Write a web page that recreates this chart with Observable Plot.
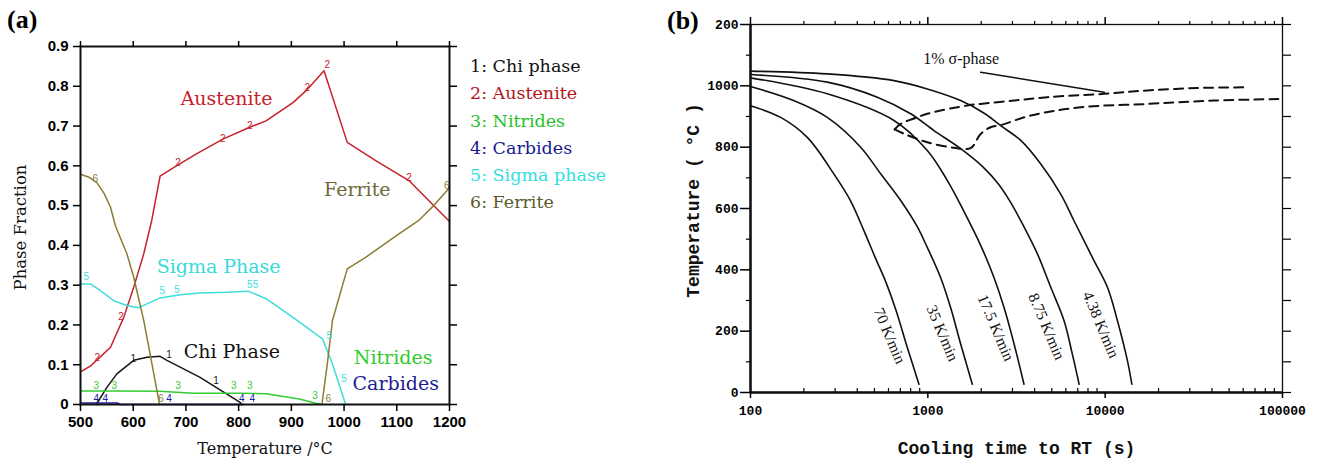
<!DOCTYPE html>
<html><head><meta charset="utf-8">
<script src="https://cdn.jsdelivr.net/npm/d3@7"></script>
<script src="https://cdn.jsdelivr.net/npm/@observablehq/plot@0.6"></script>
<style>
body{margin:0;background:#fff}
#wrap{position:relative;width:1318px;height:458px;overflow:hidden;background:#fff}
.pl{position:absolute;font-family:"Liberation Serif",serif;font-weight:bold;font-size:26px;line-height:26px}
#legend{position:absolute;left:470px;top:53px;font-family:"DejaVu Serif",serif;font-size:17.5px;line-height:27.3px;white-space:nowrap}
svg{position:absolute;top:0}
</style></head><body>
<div id="wrap">
<div class="pl" style="left:7px;top:7px">(a)</div>
<div class="pl" style="left:667px;top:8px">(b)</div>
<div id="legend"></div>
</div>
<script>
// ---------- Panel (a): phase fractions vs temperature ----------
const AUS_T = [500, 520, 537, 557, 582, 601, 620, 635, 651, 682, 720, 770, 821, 852, 903, 928, 962, 1006, 1060, 1123, 1200];
const AUS_F = [0.082, 0.098, 0.119, 0.144, 0.219, 0.295, 0.379, 0.462, 0.574, 0.600, 0.630, 0.667, 0.697, 0.713, 0.759, 0.789, 0.839, 0.659, 0.613, 0.563, 0.46];
const FER1_T = [500, 515, 531, 545, 557, 566, 588, 601, 620, 632, 640, 650];
const FER1_F = [0.579, 0.572, 0.558, 0.530, 0.496, 0.45, 0.379, 0.32, 0.211, 0.127, 0.07, 0];
const FER2_T = [958, 968, 978, 1006, 1041, 1104, 1141, 1170, 1200];
const FER2_F = [0, 0.1, 0.211, 0.341, 0.37, 0.429, 0.462, 0.5, 0.545];
const SIG_T = [500, 519, 538, 563, 588, 610, 626, 651, 689, 726, 777, 818, 852, 903, 959, 978, 1003];
const SIG_F = [0.303, 0.303, 0.286, 0.261, 0.249, 0.243, 0.253, 0.268, 0.276, 0.280, 0.282, 0.285, 0.266, 0.219, 0.165, 0.102, 0];
const CHI_T = [530, 550, 569, 601, 626, 651, 664, 726, 802, 806];
const CHI_F = [0, 0.043, 0.077, 0.111, 0.119, 0.121, 0.111, 0.069, 0.006, 0];
const NIT_T = [500, 560, 650, 714, 800, 852, 915, 956];
const NIT_F = [0.034, 0.034, 0.033, 0.028, 0.028, 0.027, 0.014, 0];
const CAR_T = [500, 570, 575, 810];
const CAR_F = [0.004, 0.004, 0, 0];

// curve number markers [T, F]
const MK_CHI = [[600,0.115],[668,0.126],[757,0.06]];
const MK_AUS = [[532,0.118],[577,0.221],[685,0.608],[770,0.668],[821,0.70],[930,0.797],[968,0.855],[1123,0.57]];
const MK_NIT = [[530,0.048],[564,0.048],[685,0.048],[791,0.048],[821,0.048],[945,0.023]];
const MK_CAR = [[530,0.015],[547,0.015],[668,0.015],[806,0.015],[826,0.015]];
const MK_SIG = [[511,0.32],[655,0.286],[683,0.289],[821,0.30],[832,0.30],[972,0.173],[1000,0.065]];
const MK_FER = [[528,0.568],[653,0.015],[970,0.015],[1195,0.55]];

const LABEL_TEXT = ["Austenite", "Sigma Phase", "Chi Phase", "Ferrite", "Nitrides", "Carbides"];
const LABEL_T = [777, 762, 787, 1025, 1093, 1098];
const LABEL_F = [0.769, 0.347, 0.131, 0.54, 0.118, 0.053];

const LEGEND_TEXT = ["1: Chi phase", "2: Austenite", "3: Nitrides", "4: Carbides", "5: Sigma phase", "6: Ferrite"];

const X_TICKS_A = [500, 600, 700, 800, 900, 1000, 1100, 1200];
const Y_TICKS_A = [0, 0.1, 0.2, 0.3, 0.4, 0.5, 0.6, 0.7, 0.8, 0.9];

// ---------- Panel (b): cooling curves ----------
const RATE_LABELS = ["70 K/min", "35 K/min", "17.5 K/min", "8.75 K/min", "4.38 K/min"];
const C70_t = [100, 148, 209, 295, 366, 436, 505, 580, 660, 766, 891];
const C70_T = [935, 897, 832, 713, 626, 528, 440, 360, 270, 147, 27];
const C35_t = [100, 175, 271, 418, 542, 703, 873, 993, 1180, 1344, 1532, 1782];
const C35_T = [998, 952, 897, 800, 713, 626, 540, 473, 375, 277, 158, 27];
const C17_t = [100, 271, 644, 993, 1289, 1600, 1986, 2360, 2690, 3065, 3485];
const C17_T = [1026, 974, 887, 789, 691, 590, 480, 375, 277, 158, 27];
const C8_t = [100, 271, 519, 800, 1083, 1532, 2050, 2500, 2930, 3450, 4150, 4935, 5865, 6530, 7130];
const C8_T = [1037, 1012, 963, 909, 854, 795, 735, 680, 620, 545, 452, 343, 234, 125, 27];
const C4_t = [100, 271, 644, 993, 1532, 2100, 2576, 3342, 4335, 5615, 6670, 8650, 10300, 11730, 13360, 14140];
const C4_T = [1048, 1039, 1017, 990, 952, 909, 870, 822, 745, 647, 560, 430, 343, 234, 103, 27];

const SIG_UP_t = [650, 703, 850, 993, 1670, 1986, 3060, 4720, 9890, 17350, 33200, 60800];
const SIG_UP_T = [858, 876, 895, 909, 936, 941, 952, 963, 974, 985, 993, 995];
const SIG_LO_t = [650, 760, 993, 1402, 1742, 1986, 2260, 2576, 3800, 7280, 17350, 41200, 98000];
const SIG_LO_T = [858, 840, 816, 798, 797, 843, 865, 872, 903, 930, 941, 952, 957];
const LEADER_t = [1986, 9890];
const LEADER_T = [1044, 979];
const ANNOT_TEXT = ["1% σ-phase"];
const ANNOT_t = [1541];
const ANNOT_T = [1087];

const RATE_t = [608, 1208, 2414, 4668, 9440];
const RATE_T = [185, 193, 211, 215, 221];

const Y_TICKS_B = [0, 200, 400, 600, 800, 1000, 1200];
const Y_MINOR_B = [100, 300, 500, 700, 900, 1100];
const Y_ALL_B = [0, 100, 200, 300, 400, 500, 600, 700, 800, 900, 1000, 1100, 1200];
const X_TICKS_B = [100, 1000, 10000, 100000];
const X_MINOR_B = [200,300,400,500,600,700,800,900,2000,3000,4000,5000,6000,7000,8000,9000,20000,30000,40000,50000,60000,70000,80000,90000];

// ---------- colours ----------
const C_CHI = "#161616", C_AUS = "#c8202c", C_NIT = "#33cc33", C_CAR = "#1c1ca6", C_SIG = "#3fdcdc", C_FER = "#8a7d34";
const LEG_COLORS = ["#111111", "#b0141c", "#27c227", "#1a1a90", "#35dede", "#5c5a2c"];
const LABEL_COLORS = [C_AUS, "#38dada", "#111111", "#6e6938", "#2ecc2e", "#1c1c96"];

const pts = (xs, ys) => xs.map((x, i) => ({x, y: ys[i]}));
const mk = (arr) => arr.map(([x, y]) => ({x, y}));

// legend
document.getElementById("legend").innerHTML = LEGEND_TEXT.map((t, i) => `<div style="color:${LEG_COLORS[i]}">${t}</div>`).join("");

const serifA = "DejaVu Serif, serif";
const series = [[CHI_T, CHI_F, C_CHI], [AUS_T, AUS_F, C_AUS], [NIT_T, NIT_F, C_NIT], [CAR_T, CAR_F, C_CAR], [SIG_T, SIG_F, C_SIG], [FER1_T, FER1_F, C_FER], [FER2_T, FER2_F, C_FER]];
const markers = [[MK_CHI, "1", C_CHI], [MK_AUS, "2", C_AUS], [MK_NIT, "3", C_NIT], [MK_CAR, "4", C_CAR], [MK_SIG, "5", C_SIG], [MK_FER, "6", C_FER]];

const plotA = Plot.plot({
  width: 460, height: 458,
  marginLeft: 80, marginRight: 11, marginTop: 46, marginBottom: 54,
  x: {domain: [500, 1200]},
  y: {domain: [0, 0.9]},
  style: {fontFamily: "Liberation Sans, Arial, sans-serif", fontSize: "15px", background: "transparent", overflow: "visible"},
  marks: [
    ...series.map(([T, F, c]) => Plot.line(pts(T, F), {x: "x", y: "y", stroke: c, strokeWidth: 1.5})),
    ...markers.map(([arr, s, c]) => Plot.text(mk(arr), {x: "x", y: "y", text: () => s, fill: c, fontSize: 10, fontFamily: "Liberation Sans, sans-serif"})),
    ...LABEL_TEXT.map((t, i) => Plot.text([{x: LABEL_T[i], y: LABEL_F[i], t}], {x: "x", y: "y", text: "t", fill: LABEL_COLORS[i], fontFamily: serifA, fontSize: 19})),
    Plot.frame({stroke: "#111", strokeWidth: 2}),
    Plot.axisY({ticks: Y_TICKS_A, tickSize: 7, tickPadding: 5, strokeWidth: 1.5, fontWeight: "bold", label: null, tickFormat: d => d === 0 ? "0" : d.toFixed(1)}),
    Plot.axisY({anchor: "right", ticks: Y_TICKS_A, tickSize: 7, strokeWidth: 1.5, label: null, tickFormat: () => ""}),
    Plot.axisX({ticks: X_TICKS_A, tickSize: 7, tickPadding: 5, strokeWidth: 1.5, fontWeight: "bold", label: null, tickFormat: d => String(d)}),
    Plot.axisX({anchor: "top", ticks: X_TICKS_A, tickSize: 6, strokeWidth: 1.5, label: null, tickFormat: () => ""}),
    Plot.text(["Temperature /°C"], {frameAnchor: "bottom", dy: 49, fontFamily: serifA, fontSize: 16, fill: "#111"}),
    Plot.text(["Phase Fraction"], {frameAnchor: "left", textAnchor: "middle", dx: -60, dy: 2, rotate: -90, fontFamily: serifA, fontSize: 16.5, fill: "#111"})
  ]
});
plotA.style.left = "0px";
document.getElementById("wrap").appendChild(plotA);

// panel b
const curves = [[C70_t, C70_T], [C35_t, C35_T], [C17_t, C17_T], [C8_t, C8_T], [C4_t, C4_T]];
const mono = "Liberation Mono, monospace";
const serifB = "Liberation Serif, Times New Roman, serif";
const plotB = Plot.plot({
  width: 658, height: 458,
  marginLeft: 90, marginRight: 36, marginTop: 24, marginBottom: 66,
  x: {type: "log", domain: [100, 100000]},
  y: {domain: [0, 1200]},
  style: {fontFamily: mono, fontSize: "13px", background: "transparent", overflow: "visible"},
  marks: [
    ...curves.map(([t, T]) => Plot.line(pts(t, T), {x: "x", y: "y", stroke: "#111", strokeWidth: 1.6, curve: "catmull-rom"})),
    Plot.line(pts(SIG_UP_t, SIG_UP_T), {x: "x", y: "y", stroke: "#111", strokeWidth: 2, strokeDasharray: "9,6", curve: "catmull-rom"}),
    Plot.line(pts(SIG_LO_t, SIG_LO_T), {x: "x", y: "y", stroke: "#111", strokeWidth: 2, strokeDasharray: "9,6", curve: "catmull-rom"}),
    Plot.line(pts(LEADER_t, LEADER_T), {x: "x", y: "y", stroke: "#111", strokeWidth: 1.5}),
    Plot.text(ANNOT_TEXT.map((s, i) => ({x: ANNOT_t[i], y: ANNOT_T[i], s})), {x: "x", y: "y", text: "s", fontFamily: serifB, fontSize: 16, fill: "#111"}),
    Plot.text(RATE_LABELS.map((s, i) => ({x: RATE_t[i], y: RATE_T[i], s})), {x: "x", y: "y", text: "s", rotate: 67, fontFamily: serifB, fontSize: 15.5, fill: "#111"}),
    Plot.frame({stroke: "#111", strokeWidth: 1.3}),
    Plot.ruleX([100], {stroke: "#111", strokeWidth: 2.5}),
    Plot.ruleY([0], {stroke: "#111", strokeWidth: 2.5}),
    Plot.axisY({ticks: Y_TICKS_B, tickSize: 10, tickPadding: 2, strokeWidth: 1.5, fontWeight: "bold", label: null, tickFormat: d => d === 1200 ? "200" : String(d)}),
    Plot.axisY({ticks: Y_MINOR_B, tickSize: 4, strokeWidth: 1.2, label: null, tickFormat: () => ""}),
    Plot.axisY({anchor: "right", ticks: Y_ALL_B, tickSize: 8, strokeWidth: 1.2, label: null, tickFormat: () => ""}),
    Plot.axisX({ticks: X_TICKS_B, tickSize: 6, tickPadding: 7, strokeWidth: 1.5, fontWeight: "bold", label: null, tickFormat: d => String(d)}),
    Plot.axisX({ticks: X_MINOR_B, tickSize: -4, strokeWidth: 1.2, label: null, tickFormat: () => ""}),
    Plot.axisX({anchor: "top", ticks: X_TICKS_B, tickSize: 8, strokeWidth: 1.5, label: null, tickFormat: () => ""}),
    Plot.axisX({anchor: "top", ticks: X_MINOR_B, tickSize: 4, strokeWidth: 1.2, label: null, tickFormat: () => ""}),
    Plot.text(["Cooling time to RT (s)"], {frameAnchor: "bottom", dy: 61, fontFamily: mono, fontWeight: "bold", fontSize: 18, fill: "#111"}),
    Plot.text(["Temperature ( °C )"], {frameAnchor: "left", textAnchor: "middle", dx: -57, dy: -8, rotate: -90, fontFamily: mono, fontWeight: "bold", fontSize: 18, fill: "#111"})
  ]
});
plotB.style.left = "660px";
document.getElementById("wrap").appendChild(plotB);
</script>
</body></html>
